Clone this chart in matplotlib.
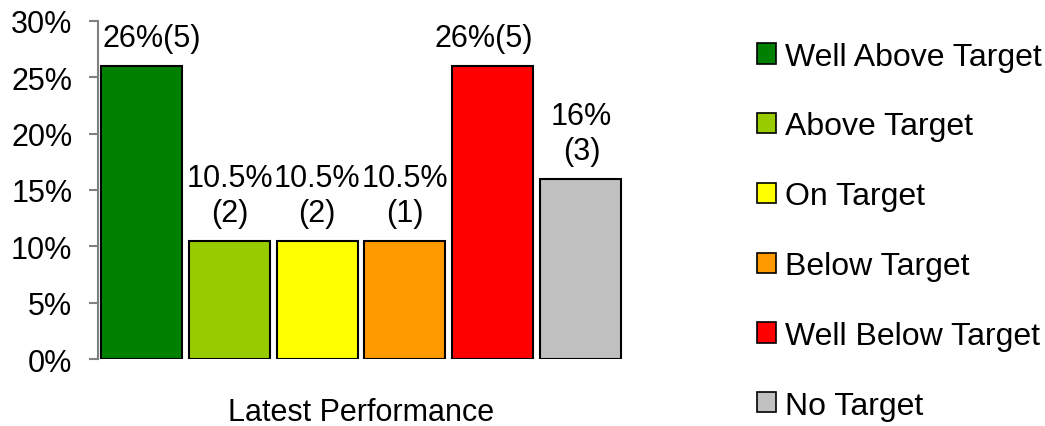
import matplotlib.pyplot as plt
from matplotlib.patches import Patch
from matplotlib.ticker import FuncFormatter

plt.rcParams['font.family'] = ['Liberation Sans', 'DejaVu Sans']

categories = ["Well Above Target", "Above Target", "On Target",
              "Below Target", "Well Below Target", "No Target"]
values = [26, 10.5, 10.5, 10.5, 26, 16]
counts = [5, 2, 2, 1, 5, 3]
colors = ["#008000", "#99CC00", "#FFFF00", "#FF9900", "#FF0000", "#C0C0C0"]
# sideways nudge (points) for labels that sit near the plot edge
label_dx = [7, 0, 0, 0, -6, 1]

fig = plt.figure(figsize=(10.45, 4.27), dpi=100)
ax = fig.add_axes([0.0938, 0.1569, 0.5033, 0.7916])

x = range(len(values))
bars = ax.bar(x, values, width=0.925, color=colors, edgecolor="black", linewidth=1.5)

for i, (v, c) in enumerate(zip(values, counts)):
    txt = f"{v:g}%({c})" if v > 20 else f"{v:g}%\n({c})"
    ax.annotate(txt, (i, v), xytext=(label_dx[i], 9.5), textcoords="offset points",
                ha="center", va="bottom", fontsize=22, linespacing=1.2)

ax.set_ylim(0, 30)
ax.set_xlim(-0.5, 5.5)
ax.set_yticks(range(0, 31, 5))
ax.yaxis.set_major_formatter(FuncFormatter(lambda v, p: f"{v:.0f}%"))
ax.tick_params(axis="y", labelsize=22, length=6.5, width=1.5, color="#808080", pad=12)
ax.set_xticks([])
for s in ["top", "right", "bottom"]:
    ax.spines[s].set_visible(False)
ax.spines["left"].set_color("#808080")
ax.spines["left"].set_linewidth(1.5)
ax.set_xlabel("Latest Performance", fontsize=22, labelpad=27)

handles = [Patch(facecolor=col, edgecolor="black", linewidth=1.2) for col in colors]
fig.legend(handles, categories, loc="upper left", bbox_to_anchor=(0.724, 0.9),
           frameon=False, fontsize=23, handlelength=0.6, handleheight=0.6,
           handletextpad=0.3, labelspacing=1.245, borderpad=0, borderaxespad=0)

fig.savefig("out.png", dpi=100)
